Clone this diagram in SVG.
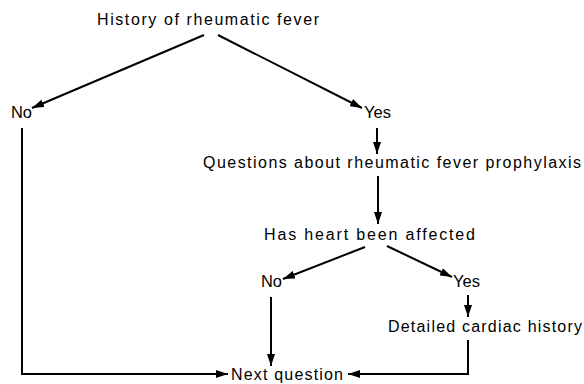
<svg xmlns="http://www.w3.org/2000/svg" width="584" height="384" viewBox="0 0 584 384">
<defs>
<marker id="ah" viewBox="0 0 12 8" refX="12" refY="4" markerWidth="12" markerHeight="8" markerUnits="userSpaceOnUse" orient="auto">
<path d="M0,0 L12,4 L0,8 Z" fill="#000"/>
</marker>
<style>
text{font-family:"Liberation Sans",Arial,sans-serif;font-size:16px;fill:#000}
.c line,.c path{stroke:#000;stroke-width:2;fill:none}
</style>
</defs>
<rect width="584" height="384" fill="#fff"/>
<g id="n-history"><text x="97" y="25" textLength="222" lengthAdjust="spacing">History of rheumatic fever</text></g>
<g id="n-no1"><text x="11" y="118" textLength="21" lengthAdjust="spacingAndGlyphs">No</text></g>
<g id="n-yes1"><text x="364" y="118" textLength="27" lengthAdjust="spacingAndGlyphs">Yes</text></g>
<g id="n-questions"><text x="203" y="168" textLength="378" lengthAdjust="spacing">Questions about rheumatic fever prophylaxis</text></g>
<g id="n-heart"><text x="264" y="240" textLength="211" lengthAdjust="spacing">Has heart been affected</text></g>
<g id="n-no2"><text x="261" y="287" textLength="21" lengthAdjust="spacingAndGlyphs">No</text></g>
<g id="n-yes2"><text x="453" y="287" textLength="27" lengthAdjust="spacingAndGlyphs">Yes</text></g>
<g id="n-detailed"><text x="388" y="332" textLength="194" lengthAdjust="spacing">Detailed cardiac history</text></g>
<g id="n-next"><text x="231" y="380" textLength="112" lengthAdjust="spacing">Next question</text></g>
<g id="connectors" class="c">
<line x1="204" y1="35" x2="32" y2="108" marker-end="url(#ah)"/>
<line x1="218" y1="35" x2="362" y2="108" marker-end="url(#ah)"/>
<line x1="377" y1="128" x2="377" y2="154" marker-end="url(#ah)"/>
<line x1="378" y1="176" x2="378" y2="224" marker-end="url(#ah)"/>
<line x1="365" y1="247" x2="283" y2="279" marker-end="url(#ah)"/>
<line x1="387" y1="246" x2="452" y2="277" marker-end="url(#ah)"/>
<line x1="468" y1="295" x2="468" y2="317" marker-end="url(#ah)"/>
<line x1="271" y1="297" x2="271" y2="366" marker-end="url(#ah)"/>
<path d="M22,128 V374 H228" marker-end="url(#ah)"/>
<path d="M468,340 V374 H348" marker-end="url(#ah)"/>
</g>
</svg>
